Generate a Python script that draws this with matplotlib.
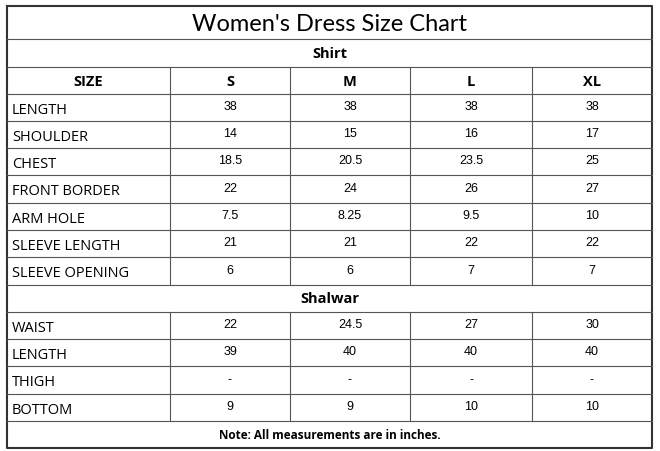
import matplotlib
matplotlib.use("Agg")
import matplotlib.pyplot as plt

title = "Women's Dress Size Chart"
sizes = ["S", "M", "L", "XL"]
shirt_rows = ["LENGTH", "SHOULDER", "CHEST", "FRONT BORDER", "ARM HOLE", "SLEEVE LENGTH", "SLEEVE OPENING"]
shirt_vals = [["38", "38", "38", "38"], ["14", "15", "16", "17"], ["18.5", "20.5", "23.5", "25"],
              ["22", "24", "26", "27"], ["7.5", "8.25", "9.5", "10"], ["21", "21", "22", "22"],
              ["6", "6", "7", "7"]]
shalwar_rows = ["WAIST", "LENGTH", "THIGH", "BOTTOM"]
shalwar_vals = [["22", "24.5", "27", "30"], ["39", "40", "40", "40"], ["-", "-", "-", "-"],
                ["9", "9", "10", "10"]]
note = "Note: All measurements are in inches."

fig = plt.figure(figsize=(6.6, 4.52), dpi=100)
ax = fig.add_axes([0, 0, 1, 1])
ax.set_xlim(0, 660); ax.set_ylim(452, 0); ax.axis("off")

L, R = 7, 652
cols = [7, 170, 290, 410, 532, 652]
ys = [7, 40, 68, 95, 122, 149, 176, 204, 231, 258, 286, 313, 340, 367, 395, 422, 449]
lc = "#555555"
ax.plot([L, R, R, L, L], [ys[0], ys[0], ys[-1], ys[-1], ys[0]], color="#333333", lw=1.5)
for y in ys[1:-1]:
    ax.plot([L, R], [y, y], color=lc, lw=0.8)
grid_bands = [(ys[2], ys[10]), (ys[11], ys[15])]
for a, b in grid_bands:
    for x in cols[1:-1]:
        ax.plot([x, x], [a, b], color=lc, lw=0.8)

def mid(i): return (ys[i] + ys[i + 1]) / 2
ax.text(330, mid(0) + 1, title, ha="center", va="center", fontsize=17, family="Lato")
ax.text(330, mid(1), "Shirt", ha="center", va="center", fontsize=10.5, weight="bold", family="Open Sans")
ax.text((cols[0] + cols[1]) / 2, mid(2), "SIZE", ha="center", va="center", fontsize=10.5, weight="bold", family="Open Sans")
for j, s in enumerate(sizes):
    ax.text((cols[j + 1] + cols[j + 2]) / 2, mid(2), s, ha="center", va="center", fontsize=10.5, weight="bold", family="Open Sans")

def rows(names, vals, start):
    for i, (n, v) in enumerate(zip(names, vals)):
        r = start + i
        ax.text(12, mid(r) + 2, n, ha="left", va="center", fontsize=10.5, family="Open Sans")
        for j, t in enumerate(v):
            ax.text((cols[j + 1] + cols[j + 2]) / 2, mid(r) - 1, t, ha="center", va="center", fontsize=9, family="Liberation Sans")

rows(shirt_rows, shirt_vals, 3)
ax.text(330, mid(10), "Shalwar", ha="center", va="center", fontsize=10.5, weight="bold", family="Open Sans")
rows(shalwar_rows, shalwar_vals, 11)
ax.text(330, mid(15), note, ha="center", va="center", fontsize=8.5, weight="bold", family="Open Sans")
fig.savefig("out.png", dpi=100)
